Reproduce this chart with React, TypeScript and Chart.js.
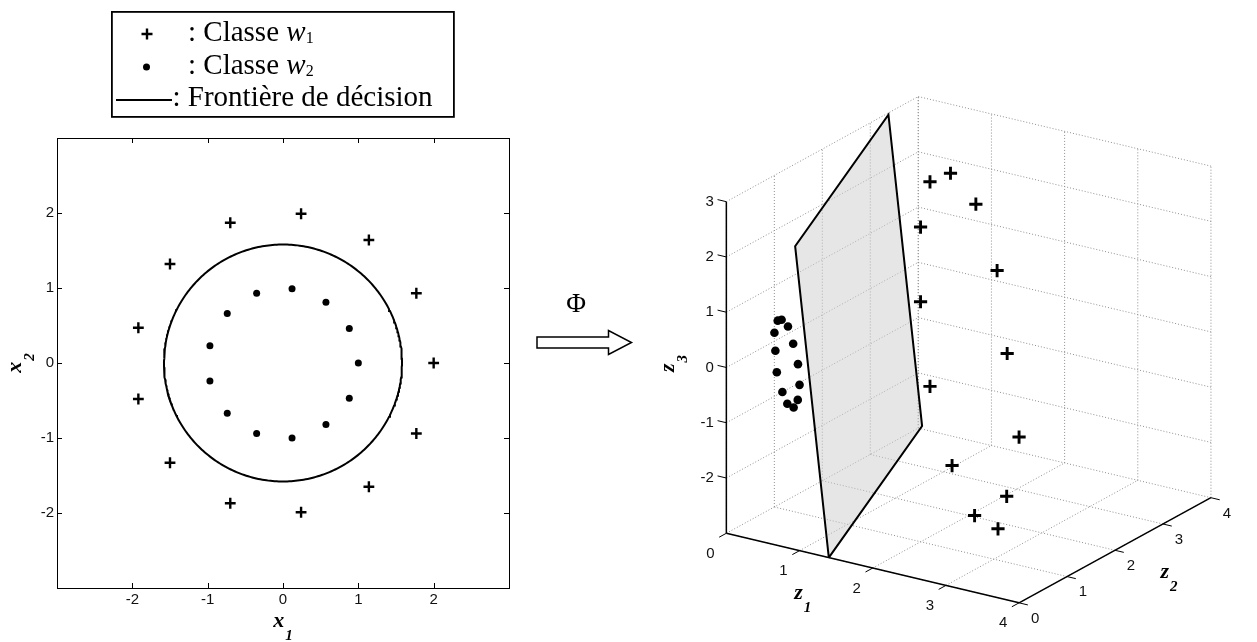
import { useEffect, useRef } from 'react';
import { Chart, registerables } from 'chart.js';

Chart.register(...registerables);

const SERIF = '"Liberation Serif", "Times New Roman", serif';
const SANS = '"Liberation Sans", Arial, sans-serif';

// ---- Input space (x1, x2) ----
// Class w1: outer ring of samples
const W1_X1 = [0.24, 1.14, 1.77, 2.0, 1.77, 1.14, 0.24, -0.7, -1.5, -1.92, -1.92, -1.5, -0.7];
const W1_X2 = [1.99, 1.64, 0.93, 0.0, -0.94, -1.65, -1.99, -1.87, -1.33, -0.48, 0.47, 1.32, 1.87];
// Class w2: inner ring of samples
const W2_X1 = [0.12, 0.57, 0.88, 1.0, 0.88, 0.57, 0.12, -0.35, -0.74, -0.97, -0.97, -0.74, -0.35];
const W2_X2 = [0.99, 0.81, 0.46, 0.0, -0.47, -0.82, -1.0, -0.94, -0.67, -0.24, 0.23, 0.66, 0.93];
// Decision boundary x1² + x2² = r²
const BOUNDARY_RADIUS = 1.58;
const X_RANGE = [-3, 3];
const Y_RANGE = [-3, 3];
const X_TICKS = [-2, -1, 0, 1, 2];
const Y_TICKS = [-2, -1, 0, 1, 2];

// ---- Feature space (z1, z2, z3) ----
const Z1_RANGE = [0, 4];
const Z2_RANGE = [0, 4];
const Z3_RANGE = [-3, 3];
const Z1_TICKS = [0, 1, 2, 3, 4];
const Z2_TICKS = [0, 1, 2, 3, 4];
const Z3_TICKS = [-2, -1, 0, 1, 2, 3];
// Separating plane, corner by corner
const PLANE_Z1 = [1.4, 0.94, -0.46, 0.0, 1.4];
const PLANE_Z2 = [0.0, 0.0, 4.08, 4.08, 0.0];
const PLANE_Z3 = [-3.0, 2.49, 2.49, -3.0, -3.0];

type P3 = [number, number, number];

// Φ : (x1, x2) -> (x1², x2², √2·x1·x2)
const phi = (x1: number, x2: number): P3 => [x1 * x1, x2 * x2, Math.SQRT2 * x1 * x2];

// Oblique view of the feature-space box (page pixels)
const VIEW_ORIGIN = [719.3, 539.3]; // where (z1min, z2min, z3min) lands
const VIEW_Z1 = [75.5, 18];
const VIEW_Z2 = [49.5, -27.2];
const VIEW_Z3 = [0, -57.2];

const project = ([z1, z2, z3]: P3) => ({
  x:
    VIEW_ORIGIN[0] +
    VIEW_Z1[0] * (z1 - Z1_RANGE[0]) +
    VIEW_Z2[0] * (z2 - Z2_RANGE[0]) +
    VIEW_Z3[0] * (z3 - Z3_RANGE[0]),
  y:
    VIEW_ORIGIN[1] +
    VIEW_Z1[1] * (z1 - Z1_RANGE[0]) +
    VIEW_Z2[1] * (z2 - Z2_RANGE[0]) +
    VIEW_Z3[1] * (z3 - Z3_RANGE[0]),
});

function drawSubLabel(
  ctx: CanvasRenderingContext2D,
  main: string,
  sub: string,
  center: number,
  baseline: number,
  vertical = false
) {
  const mainFont = `italic bold 22px ${SERIF}`;
  const subFont = `italic bold 15px ${SERIF}`;
  ctx.save();
  ctx.fillStyle = '#000';
  ctx.font = mainFont;
  const wm = ctx.measureText(main).width;
  ctx.font = subFont;
  const ws = ctx.measureText(sub).width;
  const total = wm + 1 + ws;
  if (vertical) {
    ctx.translate(baseline, center);
    ctx.rotate(-Math.PI / 2);
  } else {
    ctx.translate(center, baseline);
  }
  ctx.textAlign = 'left';
  ctx.textBaseline = 'alphabetic';
  ctx.font = mainFont;
  ctx.fillText(main, -total / 2, 0);
  ctx.font = subFont;
  ctx.fillText(sub, -total / 2 + wm + 1, 13);
  ctx.restore();
}

const leftDecor = {
  id: 'leftDecor',
  afterDatasetsDraw(chart: any) {
    const { ctx, chartArea: a, scales } = chart;
    const xs = scales.x;
    const ys = scales.y;
    ctx.save();
    ctx.strokeStyle = '#000';
    ctx.lineWidth = 1;
    ctx.strokeRect(a.left + 0.5, a.top + 0.5, a.right - a.left, a.bottom - a.top);
    ctx.beginPath();
    X_TICKS.forEach((v) => {
      const p = Math.round(xs.getPixelForValue(v)) + 0.5;
      ctx.moveTo(p, a.bottom);
      ctx.lineTo(p, a.bottom - 5);
      ctx.moveTo(p, a.top);
      ctx.lineTo(p, a.top + 5);
    });
    Y_TICKS.forEach((v) => {
      const p = Math.round(ys.getPixelForValue(v)) + 0.5;
      ctx.moveTo(a.left, p);
      ctx.lineTo(a.left + 5, p);
      ctx.moveTo(a.right, p);
      ctx.lineTo(a.right - 5, p);
    });
    ctx.stroke();
    ctx.restore();
    drawSubLabel(ctx, 'x', '1', (a.left + a.right) / 2, a.bottom + 39);
    drawSubLabel(ctx, 'x', '2', (a.top + a.bottom) / 2, a.left - 36.3, true);
  },
};

function LeftPlot() {
  const ref = useRef<HTMLCanvasElement>(null);
  useEffect(() => {
    const circle: { x: number; y: number }[] = [];
    for (let i = 0; i <= 360; i++) {
      const t = (i / 360) * 2 * Math.PI;
      circle.push({ x: BOUNDARY_RADIUS * Math.cos(t), y: BOUNDARY_RADIUS * Math.sin(t) });
    }
    const tickFont = { family: SANS, size: 15 };
    const chart = new Chart(ref.current!, {
      type: 'scatter',
      data: {
        datasets: [
          {
            label: 'Frontière de décision',
            data: circle,
            showLine: true,
            borderColor: '#000',
            borderWidth: 2,
            pointRadius: 0,
            order: 3,
          },
          {
            label: 'Classe w1',
            data: W1_X1.map((v, i) => ({ x: v, y: W1_X2[i] })),
            pointStyle: 'cross',
            pointRadius: 5.4,
            borderColor: '#000',
            borderWidth: 2.4,
            order: 1,
          },
          {
            label: 'Classe w2',
            data: W2_X1.map((v, i) => ({ x: v, y: W2_X2[i] })),
            pointStyle: 'circle',
            pointRadius: 3.5,
            backgroundColor: '#000',
            borderColor: '#000',
            borderWidth: 0,
            order: 2,
          },
        ],
      },
      options: {
        animation: false,
        responsive: false,
        events: [],
        layout: { padding: { left: 0, top: 18, right: 21, bottom: 0 } },
        plugins: { legend: { display: false }, tooltip: { enabled: false } },
        scales: {
          x: {
            type: 'linear',
            min: X_RANGE[0],
            max: X_RANGE[1],
            afterBuildTicks: (s: any) => {
              s.ticks = X_TICKS.map((v) => ({ value: v }));
            },
            afterFit: (s: any) => {
              s.height = 54;
            },
            grid: { display: false, drawTicks: false },
            border: { display: false },
            ticks: {
              font: tickFont,
              color: '#111',
              padding: 3,
              maxRotation: 0,
              autoSkip: false,
              callback: (v: any) => String(v),
            },
          },
          y: {
            type: 'linear',
            min: Y_RANGE[0],
            max: Y_RANGE[1],
            afterBuildTicks: (s: any) => {
              s.ticks = Y_TICKS.map((v) => ({ value: v }));
            },
            afterFit: (s: any) => {
              s.width = 57;
            },
            grid: { display: false, drawTicks: false },
            border: { display: false },
            ticks: {
              font: tickFont,
              color: '#111',
              padding: 3,
              autoSkip: false,
              callback: (v: any) => String(v),
            },
          },
        },
      } as any,
      plugins: [leftDecor],
    });
    return () => chart.destroy();
  }, []);
  return (
    <canvas
      ref={ref}
      width={530}
      height={522}
      style={{ position: 'absolute', left: 0, top: 120, width: 530, height: 522 }}
    />
  );
}

const RIGHT_LEFT = 640;
const RIGHT_TOP = 80;
const RIGHT_W = 617;
const RIGHT_H = 562;

const rightDecor = {
  id: 'rightDecor',
  afterDatasetsDraw(chart: any) {
    const { ctx, scales } = chart;
    const px = (p: P3) => {
      const q = project(p);
      return { x: scales.x.getPixelForValue(q.x), y: scales.y.getPixelForValue(q.y) };
    };
    const [z1a, z1b] = Z1_RANGE;
    const [z2a, z2b] = Z2_RANGE;
    const [z3a, z3b] = Z3_RANGE;
    ctx.save();
    ctx.strokeStyle = '#000';
    ctx.lineWidth = 1;
    ctx.beginPath();
    Z3_TICKS.forEach((t) => {
      const a = px([z1a, z2a, t]);
      const b = px([z1a - 0.12, z2a, t]);
      ctx.moveTo(a.x, a.y);
      ctx.lineTo(b.x, b.y);
    });
    Z1_TICKS.forEach((t) => {
      const a = px([t, z2a, z3a]);
      const b = px([t, z2a - 0.15, z3a]);
      ctx.moveTo(a.x, a.y);
      ctx.lineTo(b.x, b.y);
    });
    Z2_TICKS.forEach((t) => {
      const a = px([z1b, t, z3a]);
      const b = px([z1b + 0.12, t, z3a]);
      ctx.moveTo(a.x, a.y);
      ctx.lineTo(b.x, b.y);
    });
    ctx.stroke();

    ctx.fillStyle = '#111';
    ctx.font = `15px ${SANS}`;
    ctx.textBaseline = 'middle';
    ctx.textAlign = 'right';
    Z3_TICKS.forEach((t) => {
      const a = px([z1a, z2a, t]);
      ctx.fillText(String(t), a.x - 12.6, a.y);
    });
    ctx.textAlign = 'center';
    Z1_TICKS.forEach((t) => {
      const a = px([t, z2a, z3a]);
      ctx.fillText(String(t), a.x - 16, a.y + 20.5);
    });
    Z2_TICKS.forEach((t) => {
      const a = px([z1b, t, z3a]);
      ctx.fillText(String(t), a.x + 16, a.y + 15.7);
    });
    ctx.restore();

    const m1 = px([(z1a + z1b) / 2, z2a, z3a]);
    const m2 = px([z1b, (z2a + z2b) / 2, z3a]);
    const m3 = px([z1a, z2a, (z3a + z3b) / 2]);
    drawSubLabel(ctx, 'z', '1', m1.x - 70, m1.y + 31);
    drawSubLabel(ctx, 'z', '2', m2.x + 54, m2.y + 27.6);
    drawSubLabel(ctx, 'z', '3', m3.y - 4, m3.x - 52, true);
  },
};

function RightPlot() {
  const ref = useRef<HTMLCanvasElement>(null);
  useEffect(() => {
    const [z1a, z1b] = Z1_RANGE;
    const [z2a, z2b] = Z2_RANGE;
    const [z3a, z3b] = Z3_RANGE;

    // Dotted grid on the two back walls and the floor
    const grid: [P3, P3][] = [];
    Z2_TICKS.forEach((t) => grid.push([[z1a, t, z3a], [z1a, t, z3b]]));
    Z3_TICKS.forEach((t) => grid.push([[z1a, z2a, t], [z1a, z2b, t]]));
    Z1_TICKS.forEach((t) => grid.push([[t, z2b, z3a], [t, z2b, z3b]]));
    Z3_TICKS.forEach((t) => grid.push([[z1a, z2b, t], [z1b, z2b, t]]));
    Z1_TICKS.forEach((t) => grid.push([[t, z2a, z3a], [t, z2b, z3a]]));
    Z2_TICKS.forEach((t) => grid.push([[z1a, t, z3a], [z1b, t, z3a]]));

    const axes: [P3, P3][] = [
      [[z1a, z2a, z3a], [z1a, z2a, z3b]],
      [[z1a, z2a, z3a], [z1b, z2a, z3a]],
      [[z1b, z2a, z3a], [z1b, z2b, z3a]],
    ];

    const gridSets = grid.map(([a, b]) => ({
      data: [project(a), project(b)],
      showLine: true,
      pointRadius: 0,
      borderColor: '#8f8f8f',
      borderWidth: 1,
      borderDash: [1, 2],
      order: 6,
    }));
    const axisSets = axes.map(([a, b]) => ({
      data: [project(a), project(b)],
      showLine: true,
      pointRadius: 0,
      borderColor: '#000',
      borderWidth: 1.5,
      order: 4,
    }));
    const plane = {
      label: 'Plan de décision',
      data: PLANE_Z1.map((v, i) => project([v, PLANE_Z2[i], PLANE_Z3[i]])),
      showLine: true,
      pointRadius: 0,
      borderColor: '#000',
      borderWidth: 2,
      backgroundColor: 'rgba(205,205,205,0.5)',
      fill: 'shape',
      order: 5,
    };
    const w1 = {
      label: 'Classe w1',
      data: W1_X1.map((v, i) => project(phi(v, W1_X2[i]))),
      pointStyle: 'cross',
      pointRadius: 6.6,
      borderColor: '#000',
      borderWidth: 2.9,
      order: 1,
    };
    const w2 = {
      label: 'Classe w2',
      data: W2_X1.map((v, i) => project(phi(v, W2_X2[i]))),
      pointStyle: 'circle',
      pointRadius: 4.3,
      backgroundColor: '#000',
      borderColor: '#000',
      borderWidth: 0,
      order: 2,
    };

    const chart = new Chart(ref.current!, {
      type: 'scatter',
      data: { datasets: [...gridSets, plane, ...axisSets, w1, w2] as any },
      options: {
        animation: false,
        responsive: false,
        events: [],
        layout: { padding: 0 },
        plugins: { legend: { display: false }, tooltip: { enabled: false } },
        scales: {
          x: { type: 'linear', display: false, min: RIGHT_LEFT, max: RIGHT_LEFT + RIGHT_W },
          y: { type: 'linear', display: false, min: RIGHT_TOP, max: RIGHT_TOP + RIGHT_H, reverse: true },
        },
      } as any,
      plugins: [rightDecor],
    });
    return () => chart.destroy();
  }, []);
  return (
    <canvas
      ref={ref}
      width={RIGHT_W}
      height={RIGHT_H}
      style={{ position: 'absolute', left: RIGHT_LEFT, top: RIGHT_TOP, width: RIGHT_W, height: RIGHT_H }}
    />
  );
}

function Overlay() {
  const text = { fontFamily: SERIF, fontSize: 29, fill: '#000' };
  return (
    <svg
      width={1257}
      height={642}
      style={{ position: 'absolute', left: 0, top: 0, pointerEvents: 'none' }}
    >
      <rect x={111.9} y={11.9} width={342} height={105} fill="#fff" stroke="#000" strokeWidth={1.8} />
      <path d="M141.5 34 H152.5 M147 28.5 V39.5" stroke="#000" strokeWidth={2.4} />
      <circle cx={146.5} cy={67} r={3.5} fill="#000" />
      <line x1={116} y1={100} x2={172} y2={100} stroke="#000" strokeWidth={2} />
      <text x={188} y={40.5} {...text}>
        : Classe <tspan fontStyle="italic">w</tspan>
        <tspan fontSize={16} dy={2}>1</tspan>
      </text>
      <text x={188} y={73.5} {...text}>
        : Classe <tspan fontStyle="italic">w</tspan>
        <tspan fontSize={16} dy={2}>2</tspan>
      </text>
      <text x={172.5} y={105.5} {...text}>
        : Frontière de décision
      </text>

      <text x={576} y={311.5} textAnchor="middle" fontFamily={SERIF} fontSize={27} fill="#000">
        Φ
      </text>
      <path
        d="M537 337 H608.5 V330.5 L631.5 342.5 L608.5 354.5 V348 H537 Z"
        fill="#fff"
        stroke="#000"
        strokeWidth={1.5}
      />
    </svg>
  );
}

export default function App() {
  return (
    <div
      style={{
        position: 'absolute',
        left: 0,
        top: 0,
        width: 1257,
        height: 642,
        background: '#fff',
        overflow: 'hidden',
      }}
    >
      <LeftPlot />
      <RightPlot />
      <Overlay />
    </div>
  );
}
